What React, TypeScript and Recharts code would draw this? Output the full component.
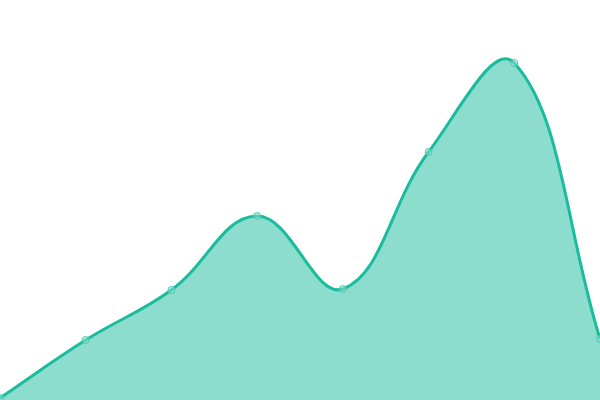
import { AreaChart, Area, XAxis, YAxis } from "recharts";

const labels = ["A", "B", "C", "D", "E", "F", "G", "H"];
const values = [0.5, 15, 27.5, 46, 27.75, 62, 84.25, 15.25];

const data = labels.map((name, i) => ({ name, value: values[i] }));

// tension spline (control points from neighbour distances), fed to recharts as a d3-style curve factory
const TENSION = 0.4;

function TensionCurve(context) {
  this._context = context;
}

TensionCurve.prototype = {
  areaStart() {
    this._line = 0;
  },
  areaEnd() {
    this._line = NaN;
  },
  lineStart() {
    this._pts = [];
  },
  point(x, y) {
    this._pts.push({ x: +x, y: +y });
  },
  lineEnd() {
    const pts = this._pts;
    const ctx = this._context;
    const n = pts.length;
    if (n) {
      if (this._line) ctx.lineTo(pts[0].x, pts[0].y);
      else ctx.moveTo(pts[0].x, pts[0].y);
      const cps = pts.map((cur, i) => {
        const prev = i > 0 ? pts[i - 1] : cur;
        const next = i < n - 1 ? pts[i + 1] : cur;
        const d01 = Math.hypot(cur.x - prev.x, cur.y - prev.y);
        const d12 = Math.hypot(next.x - cur.x, next.y - cur.y);
        let s01 = d01 / (d01 + d12);
        let s12 = d12 / (d01 + d12);
        if (isNaN(s01)) s01 = 0;
        if (isNaN(s12)) s12 = 0;
        const fa = TENSION * s01;
        const fb = TENSION * s12;
        return {
          inX: cur.x - fa * (next.x - prev.x),
          inY: cur.y - fa * (next.y - prev.y),
          outX: cur.x + fb * (next.x - prev.x),
          outY: cur.y + fb * (next.y - prev.y),
        };
      });
      for (let i = 1; i < n; i++) {
        ctx.bezierCurveTo(cps[i - 1].outX, cps[i - 1].outY, cps[i].inX, cps[i].inY, pts[i].x, pts[i].y);
      }
    }
    if (this._line || (this._line !== 0 && n === 1)) ctx.closePath();
    this._line = 1 - this._line;
  },
};

const tensionCurve = (context) => new TensionCurve(context);

export default function App() {
  return (
    <div style={{ position: "absolute", left: 0, top: 0, width: 600, height: 400 }}>
      <AreaChart width={600} height={400} data={data} margin={{ top: 0, right: 0, left: 0, bottom: 0 }}>
        <XAxis dataKey="name" hide />
        <YAxis hide domain={[0, 100]} />
        <Area
          type={tensionCurve}
          dataKey="value"
          stroke="#1abc9c"
          strokeWidth={3}
          fill="#1abc9c"
          fillOpacity={0.5}
          dot={{ r: 3.5, fill: "#8ae0cf", stroke: "#4ccab0", strokeWidth: 1 }}
          activeDot={false}
          isAnimationActive={false}
        />
      </AreaChart>
    </div>
  );
}
